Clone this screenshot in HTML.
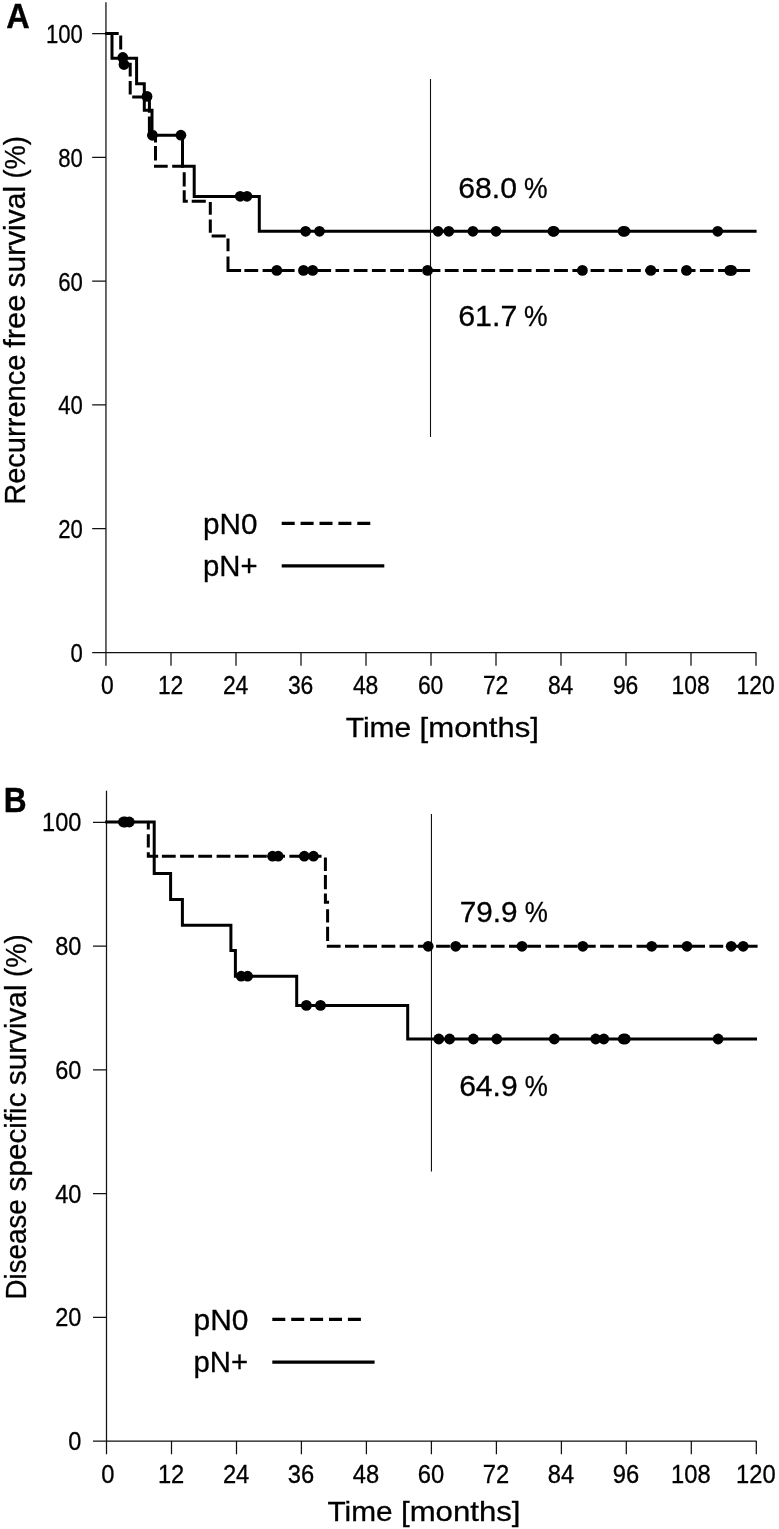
<!DOCTYPE html>
<html><head><meta charset="utf-8"><title>Survival curves</title>
<style>
html,body{margin:0;padding:0;background:#fff;}
body{width:779px;height:1529px;overflow:hidden;font-family:"Liberation Sans",sans-serif;}
svg{display:block;will-change:transform;filter:grayscale(1);}
text{font-family:"Liberation Sans",sans-serif;fill:#000;}
.ax{stroke:#111;stroke-width:1.25;fill:none;}
.cv{stroke:#000;stroke-width:3;fill:none;stroke-linejoin:miter;stroke-linecap:butt;}
.lgl{stroke:#000;stroke-width:3.3;fill:none;}
.tk{font-size:25px;stroke:#000;stroke-width:.3px;}
.lg,.ttl,.ytl{stroke:#000;stroke-width:.3px;}
.pl{font-weight:bold;stroke:#000;stroke-width:.4px;}
</style></head><body>
<svg width="779" height="1529" viewBox="0 0 779 1529">
<rect width="779" height="1529" fill="#fff"/>

<path class="ax" d="M105.95 2.3 V665.7 M92.2 652.5 H756.3"/>
<path class="ax" d="M171.0 652.5 v13.2 M236.0 652.5 v13.2 M301.0 652.5 v13.2 M366.0 652.5 v13.2 M431.0 652.5 v13.2 M496.0 652.5 v13.2 M561.0 652.5 v13.2 M626.0 652.5 v13.2 M691.0 652.5 v13.2 M756.0 652.5 v13.2 M92.2 528.7 H105.95 M92.2 404.9 H105.95 M92.2 281.1 H105.95 M92.2 157.3 H105.95 M92.2 33.5 H105.95 "/>
<text class="tk" transform="translate(107.4 694.3) scale(0.915 1)" text-anchor="middle">0</text>
<text class="tk" transform="translate(170.6 694.3) scale(0.915 1)" text-anchor="middle">12</text>
<text class="tk" transform="translate(235.6 694.3) scale(0.915 1)" text-anchor="middle">24</text>
<text class="tk" transform="translate(300.6 694.3) scale(0.915 1)" text-anchor="middle">36</text>
<text class="tk" transform="translate(365.6 694.3) scale(0.915 1)" text-anchor="middle">48</text>
<text class="tk" transform="translate(430.6 694.3) scale(0.915 1)" text-anchor="middle">60</text>
<text class="tk" transform="translate(495.6 694.3) scale(0.915 1)" text-anchor="middle">72</text>
<text class="tk" transform="translate(560.6 694.3) scale(0.915 1)" text-anchor="middle">84</text>
<text class="tk" transform="translate(625.6 694.3) scale(0.915 1)" text-anchor="middle">96</text>
<text class="tk" transform="translate(690.6 694.3) scale(0.915 1)" text-anchor="middle">108</text>
<text class="tk" transform="translate(755.6 694.3) scale(0.915 1)" text-anchor="middle">120</text>
<text class="tk" transform="translate(82.8 662.0) scale(0.885 1)" text-anchor="end">0</text>
<text class="tk" transform="translate(82.8 538.2) scale(0.885 1)" text-anchor="end">20</text>
<text class="tk" transform="translate(82.8 414.4) scale(0.885 1)" text-anchor="end">40</text>
<text class="tk" transform="translate(82.8 290.6) scale(0.885 1)" text-anchor="end">60</text>
<text class="tk" transform="translate(82.8 166.8) scale(0.885 1)" text-anchor="end">80</text>
<text class="tk" transform="translate(82.8 43.0) scale(0.885 1)" text-anchor="end">100</text>
<text class="pl" style="font-size:34.5px" x="6.31" y="27.9" textLength="23.43" lengthAdjust="spacingAndGlyphs" xml:space="preserve">A</text>
<text class="ytl" style="font-size:29.2px" transform="translate(25.0 504.87) rotate(-90)" textLength="150.38" lengthAdjust="spacingAndGlyphs" xml:space="preserve">Recurrence</text>
<text class="ytl" style="font-size:29.2px" transform="translate(25.0 347.84) rotate(-90)" textLength="53.39" lengthAdjust="spacingAndGlyphs" xml:space="preserve">free</text>
<text class="ytl" style="font-size:29.2px" transform="translate(25.0 287.48) rotate(-90)" textLength="101.53" lengthAdjust="spacingAndGlyphs" xml:space="preserve">survival</text>
<text class="ytl" style="font-size:29.2px" transform="translate(25.0 178.53) rotate(-90)" textLength="42.48" lengthAdjust="spacingAndGlyphs" xml:space="preserve">(%)</text>
<text class="ttl" style="font-size:28.5px" x="345.73" y="736.8" textLength="65.58" lengthAdjust="spacingAndGlyphs" xml:space="preserve">Time</text>
<text class="ttl" style="font-size:28.5px" x="419.56" y="736.8" textLength="119.44" lengthAdjust="spacingAndGlyphs" xml:space="preserve">[months]</text>
<path d="M430.5 78.9 V436.9" stroke="#111" stroke-width="1.1" fill="none"/>
<path class="cv" d="M105.2 33.4H118.7M120.7 35.4V49.5M120.7 54.0V64.0M119.3 64.2H131.6M130.2 62.8V76.5M130.2 81.0V94.5M132.2 97.1H146.5M149.4 98.5V112.8M149.4 116.6V131.8M148.0 132.0H155.5M155.5 131.8V142.5M155.5 146.1V160.5M154.0 166.3H167.7M172.2 166.3H184.2M184.2 172.3V186.5M184.2 190.3V202.7M182.7 201.2H187.8M191.7 201.2H205.8M210.3 201.9V214.7M210.3 219.6V232.7M211.6 236.1H225.7M228.0 238.4V251.3M228.0 256.4V271.9M226.5 270.4H241.1M244.4 270.4H258.2M262.6 270.4H276.4M280.8 270.4H294.6M299.1 270.4H312.9M317.3 270.4H331.1M335.5 270.4H349.3M353.7 270.4H367.5M371.9 270.4H385.7M390.2 270.4H404.0M408.4 270.4H422.2M426.6 270.4H440.4M444.8 270.4H458.6M463.0 270.4H476.8M481.3 270.4H495.1M499.5 270.4H513.3M517.7 270.4H531.5M535.9 270.4H549.7M554.1 270.4H567.9M572.4 270.4H586.2M590.6 270.4H604.4M608.8 270.4H622.6M627.0 270.4H640.8M645.2 270.4H659.0M663.5 270.4H677.3M681.7 270.4H695.5M699.9 270.4H713.7M718.1 270.4H731.9M736.3 270.4H750.1"/>
<path class="cv" d="M105.2 33.4 L112.0 33.4 L112.0 58.3 L136.6 58.3 L136.6 83.8 L144.3 83.8 L144.3 110.2 L152.0 110.2 L152.0 135.3 L182.5 135.3 L182.5 166.3 L194.2 166.3 L194.2 196.4 L259.3 196.4 L259.3 231.3 L756.6 231.3"/>
<circle cx="122.8" cy="57.5" r="5.4"/>
<circle cx="124" cy="64.5" r="5.4"/>
<circle cx="147.0" cy="96.4" r="5.4"/>
<circle cx="152.4" cy="135.3" r="5.4"/>
<circle cx="180.9" cy="135.2" r="5.4"/>
<circle cx="240.2" cy="196.3" r="5.4"/>
<circle cx="247" cy="196.3" r="5.4"/>
<circle cx="305.6" cy="231.3" r="5.4"/>
<circle cx="319.5" cy="231.3" r="5.4"/>
<circle cx="438" cy="231.3" r="5.4"/>
<circle cx="448.8" cy="231.3" r="5.4"/>
<circle cx="472.9" cy="231.3" r="5.4"/>
<circle cx="496" cy="231.3" r="5.4"/>
<circle cx="552.9" cy="231.3" r="5.4"/>
<circle cx="554.1" cy="231.3" r="5.4"/>
<circle cx="623" cy="231.3" r="5.4"/>
<circle cx="624.8" cy="231.3" r="5.4"/>
<circle cx="717.7" cy="231.3" r="5.4"/>
<circle cx="276.8" cy="270.4" r="5.4"/>
<circle cx="303.5" cy="270.4" r="5.4"/>
<circle cx="312.7" cy="270.4" r="5.4"/>
<circle cx="427.5" cy="270.4" r="5.4"/>
<circle cx="582.4" cy="270.4" r="5.4"/>
<circle cx="650.8" cy="270.4" r="5.4"/>
<circle cx="686.5" cy="270.4" r="5.4"/>
<circle cx="729.8" cy="270.4" r="5.4"/>
<circle cx="731.6" cy="270.4" r="5.4"/>
<text class="lg" style="font-size:30px" x="458.24" y="197.9" textLength="58.72" lengthAdjust="spacingAndGlyphs" xml:space="preserve">68.0</text>
<text class="lg" style="font-size:30px" x="523.93" y="197.9" textLength="23.59" lengthAdjust="spacingAndGlyphs" xml:space="preserve">%</text>
<text class="lg" style="font-size:30px" x="458.22" y="325.8" textLength="59.16" lengthAdjust="spacingAndGlyphs" xml:space="preserve">61.7</text>
<text class="lg" style="font-size:30px" x="523.93" y="325.8" textLength="23.59" lengthAdjust="spacingAndGlyphs" xml:space="preserve">%</text>
<text class="lg" style="font-size:29.5px" x="203.00" y="533.8" textLength="54.44" lengthAdjust="spacingAndGlyphs" xml:space="preserve">pN0</text>
<text class="lg" style="font-size:29.5px" x="203.02" y="576.1" textLength="54.59" lengthAdjust="spacingAndGlyphs" xml:space="preserve">pN+</text>
<path class="lgl" d="M281.7 523.4H294.7M300.6 523.4H313.6M319.5 523.4H332.5M338.4 523.4H351.4M357.3 523.4H370.3"/>
<path class="lgl" d="M281.7 565.9 H384.3"/>
<path class="ax" d="M106.5 790.8 V1454.2 M93.0 1441.0 H756.6"/>
<path class="ax" d="M171.5 1441.0 v13.2 M236.5 1441.0 v13.2 M301.4 1441.0 v13.2 M366.4 1441.0 v13.2 M431.4 1441.0 v13.2 M496.4 1441.0 v13.2 M561.4 1441.0 v13.2 M626.3 1441.0 v13.2 M691.3 1441.0 v13.2 M756.3 1441.0 v13.2 M93.0 1317.3 H106.5 M93.0 1193.6 H106.5 M93.0 1069.8 H106.5 M93.0 946.1 H106.5 M93.0 822.4 H106.5 "/>
<text class="tk" transform="translate(107.9 1482.8) scale(0.95 1)" text-anchor="middle">0</text>
<text class="tk" transform="translate(171.1 1482.8) scale(0.95 1)" text-anchor="middle">12</text>
<text class="tk" transform="translate(236.1 1482.8) scale(0.95 1)" text-anchor="middle">24</text>
<text class="tk" transform="translate(301.0 1482.8) scale(0.95 1)" text-anchor="middle">36</text>
<text class="tk" transform="translate(366.0 1482.8) scale(0.95 1)" text-anchor="middle">48</text>
<text class="tk" transform="translate(431.0 1482.8) scale(0.95 1)" text-anchor="middle">60</text>
<text class="tk" transform="translate(496.0 1482.8) scale(0.95 1)" text-anchor="middle">72</text>
<text class="tk" transform="translate(561.0 1482.8) scale(0.95 1)" text-anchor="middle">84</text>
<text class="tk" transform="translate(625.9 1482.8) scale(0.95 1)" text-anchor="middle">96</text>
<text class="tk" transform="translate(690.9 1482.8) scale(0.95 1)" text-anchor="middle">108</text>
<text class="tk" transform="translate(755.9 1482.8) scale(0.95 1)" text-anchor="middle">120</text>
<text class="tk" transform="translate(81.3 1450.0) scale(0.94 1)" text-anchor="end">0</text>
<text class="tk" transform="translate(81.3 1326.3) scale(0.94 1)" text-anchor="end">20</text>
<text class="tk" transform="translate(81.3 1202.6) scale(0.94 1)" text-anchor="end">40</text>
<text class="tk" transform="translate(81.3 1078.8) scale(0.94 1)" text-anchor="end">60</text>
<text class="tk" transform="translate(81.3 955.1) scale(0.94 1)" text-anchor="end">80</text>
<text class="tk" transform="translate(81.3 831.4) scale(0.94 1)" text-anchor="end">100</text>
<text class="pl" style="font-size:34.5px" x="3.84" y="812.0" textLength="22.86" lengthAdjust="spacingAndGlyphs" xml:space="preserve">B</text>
<text class="ytl" style="font-size:29.2px" transform="translate(25.9 1299.38) rotate(-90)" textLength="100.07" lengthAdjust="spacingAndGlyphs" xml:space="preserve">Disease</text>
<text class="ytl" style="font-size:29.2px" transform="translate(25.9 1191.39) rotate(-90)" textLength="98.90" lengthAdjust="spacingAndGlyphs" xml:space="preserve">specific</text>
<text class="ytl" style="font-size:29.2px" transform="translate(25.9 1085.23) rotate(-90)" textLength="100.71" lengthAdjust="spacingAndGlyphs" xml:space="preserve">survival</text>
<text class="ytl" style="font-size:29.2px" transform="translate(25.9 976.89) rotate(-90)" textLength="42.41" lengthAdjust="spacingAndGlyphs" xml:space="preserve">(%)</text>
<text class="ttl" style="font-size:28.5px" x="327.44" y="1520.5" textLength="65.14" lengthAdjust="spacingAndGlyphs" xml:space="preserve">Time</text>
<text class="ttl" style="font-size:28.5px" x="400.98" y="1520.5" textLength="119.53" lengthAdjust="spacingAndGlyphs" xml:space="preserve">[months]</text>
<path d="M431.45 813.9 V1171.6" stroke="#111" stroke-width="1.1" fill="none"/>
<path class="cv" d="M148.3 822.1V829.6M148.3 834.3V847.6M148.3 852.2V857.7M146.8 856.2H158.2M161.9 856.2H175.7M180.1 856.2H193.9M198.3 856.2H212.1M216.6 856.2H230.4M234.8 856.2H248.6M253.0 856.2H266.8M271.2 856.2H285.0M289.4 856.2H303.2M307.7 856.2H321.5M325.4 857.5V870.9M325.4 875.0V889.2M325.4 893.4V903.6M323.9 902.2H329.1M327.6 902.2V903.0M327.6 909.3V922.6M327.6 926.8V941.0M326.8 946.3H340.6M345.0 946.3H358.8M363.2 946.3H377.0M381.5 946.3H395.3M399.7 946.3H413.5M417.9 946.3H431.7M436.1 946.3H449.9M454.3 946.3H468.1M472.6 946.3H486.4M490.8 946.3H504.6M509.0 946.3H522.8M527.2 946.3H541.0M545.4 946.3H559.2M563.7 946.3H577.5M581.9 946.3H595.7M600.1 946.3H613.9M618.3 946.3H632.1M636.5 946.3H650.3M654.8 946.3H668.6M673.0 946.3H686.8M691.2 946.3H705.0M709.4 946.3H723.2M727.6 946.3H741.4M745.9 946.3H757.6"/>
<path class="cv" d="M105.2 822.1 L154.2 822.1 L154.2 873.4 L170.6 873.4 L170.6 899.5 L182.4 899.5 L182.4 925.2 L230.9 925.2 L230.9 950.5 L235.4 950.5 L235.4 976.2 L296.7 976.2 L296.7 1005.4 L407.7 1005.4 L407.7 1039.0 L757.0 1039.0"/>
<circle cx="123.4" cy="822" r="5.4"/>
<circle cx="125.2" cy="822" r="5.4"/>
<circle cx="129.3" cy="822" r="5.4"/>
<circle cx="241.2" cy="976.2" r="5.4"/>
<circle cx="247.6" cy="976.2" r="5.4"/>
<circle cx="306.4" cy="1005.4" r="5.4"/>
<circle cx="320.5" cy="1005.4" r="5.4"/>
<circle cx="438.8" cy="1039.0" r="5.4"/>
<circle cx="449.6" cy="1039.0" r="5.4"/>
<circle cx="473.4" cy="1039.0" r="5.4"/>
<circle cx="496.8" cy="1039.0" r="5.4"/>
<circle cx="554.3" cy="1039.0" r="5.4"/>
<circle cx="595.7" cy="1039.0" r="5.4"/>
<circle cx="603.8" cy="1039.0" r="5.4"/>
<circle cx="623.3" cy="1039.0" r="5.4"/>
<circle cx="625.3" cy="1039.0" r="5.4"/>
<circle cx="718.1" cy="1039.0" r="5.4"/>
<circle cx="272.5" cy="856.2" r="5.4"/>
<circle cx="278.2" cy="856.2" r="5.4"/>
<circle cx="304.3" cy="856.2" r="5.4"/>
<circle cx="313.5" cy="856.2" r="5.4"/>
<circle cx="428.2" cy="946.3" r="5.4"/>
<circle cx="455.7" cy="946.3" r="5.4"/>
<circle cx="522" cy="946.3" r="5.4"/>
<circle cx="582.8" cy="946.3" r="5.4"/>
<circle cx="651.7" cy="946.3" r="5.4"/>
<circle cx="687.0" cy="946.3" r="5.4"/>
<circle cx="731.2" cy="946.3" r="5.4"/>
<circle cx="743.2" cy="946.3" r="5.4"/>
<text class="lg" style="font-size:30px" x="459.74" y="921.8" textLength="57.88" lengthAdjust="spacingAndGlyphs" xml:space="preserve">79.9</text>
<text class="lg" style="font-size:30px" x="524.64" y="921.8" textLength="23.09" lengthAdjust="spacingAndGlyphs" xml:space="preserve">%</text>
<text class="lg" style="font-size:30px" x="459.13" y="1095.8" textLength="58.58" lengthAdjust="spacingAndGlyphs" xml:space="preserve">64.9</text>
<text class="lg" style="font-size:30px" x="524.64" y="1095.8" textLength="23.09" lengthAdjust="spacingAndGlyphs" xml:space="preserve">%</text>
<text class="lg" style="font-size:29.5px" x="193.51" y="1330.0" textLength="54.92" lengthAdjust="spacingAndGlyphs" xml:space="preserve">pN0</text>
<text class="lg" style="font-size:29.5px" x="193.49" y="1372.1" textLength="54.57" lengthAdjust="spacingAndGlyphs" xml:space="preserve">pN+</text>
<path class="lgl" d="M272.3 1319.3H285.3M291.2 1319.3H304.2M310.1 1319.3H323.1M329.0 1319.3H342.0M347.9 1319.3H360.9"/>
<path class="lgl" d="M272.3 1362.2 H374.6"/>
</svg></body></html>
